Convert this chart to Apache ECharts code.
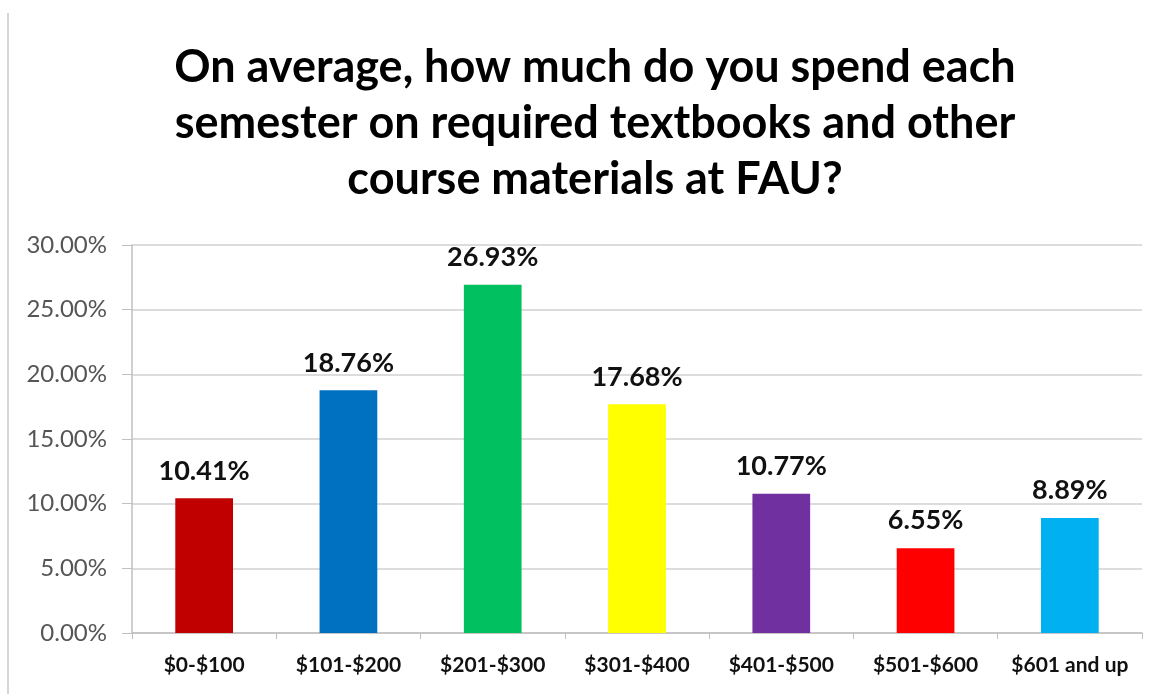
<!DOCTYPE html>
<html><head><meta charset="utf-8">
<script src="https://cdn.jsdelivr.net/npm/echarts@6/dist/echarts.min.js"></script>
<style>html,body{margin:0;padding:0;background:#fff}#c{width:1164px;height:694px}</style>
</head><body><div id="c"></div>
<script>
const categories = ['$0-$100','$101-$200','$201-$300','$301-$400','$401-$500','$501-$600','$601 and up'];
const values = [10.41, 18.76, 26.93, 17.68, 10.77, 6.55, 8.89];
const barColors = ['#C00000','#0070C0','#00C060','#FFFF00','#7030A0','#FF0000','#00B0F0'];
const titleText = 'On average, how much do you spend each\nsemester on required textbooks and other\ncourse materials at FAU?';

const chart = echarts.init(document.getElementById('c'));
chart.setOption({
  backgroundColor: '#fff',
  animation: false,
  title: {
    text: titleText,
    left: 590, textAlign: 'center', top: 34,
    textStyle: {fontFamily: 'Lato', fontWeight: 'bold', fontSize: 45, lineHeight: 56, color: '#000'}
  },
  graphic: [{type: 'line', shape: {x1: 8, y1: 13, x2: 8, y2: 694}, style: {stroke: '#c8c8c8', lineWidth: 1.5}}],
  grid: {left: 132, right: 22, top: 245, bottom: 61},
  xAxis: {
    type: 'category', data: categories,
    axisLine: {lineStyle: {color: '#bfbfbf', width: 1.5}},
    axisTick: {show: true, alignWithLabel: false, length: 6, lineStyle: {color: '#bfbfbf'}},
    axisLabel: {color: '#111', fontFamily: 'Lato', fontWeight: 'bold', fontSize: 21, margin: 22, interval: 0}
  },
  yAxis: {
    type: 'value', min: 0, max: 30, interval: 5,
    axisLine: {show: true, lineStyle: {color: '#bfbfbf', width: 1.5}},
    axisTick: {show: true, length: 10, lineStyle: {color: '#bfbfbf'}},
    splitLine: {lineStyle: {color: '#d0d0d0', width: 1.5}},
    axisLabel: {color: '#555', fontFamily: 'Lato', fontSize: 24, margin: 25, formatter: v => v.toFixed(2) + '%'}
  },
  series: [{
    type: 'bar', barWidth: '40%',
    data: values.map((v, i) => ({value: v, itemStyle: {color: barColors[i]}})),
    label: {show: true, position: 'top', distance: 14, color: '#111', fontFamily: 'Lato', fontWeight: 'bold', fontSize: 27,
      formatter: p => p.value.toFixed(2) + '%'}
  }]
});
</script></body></html>
